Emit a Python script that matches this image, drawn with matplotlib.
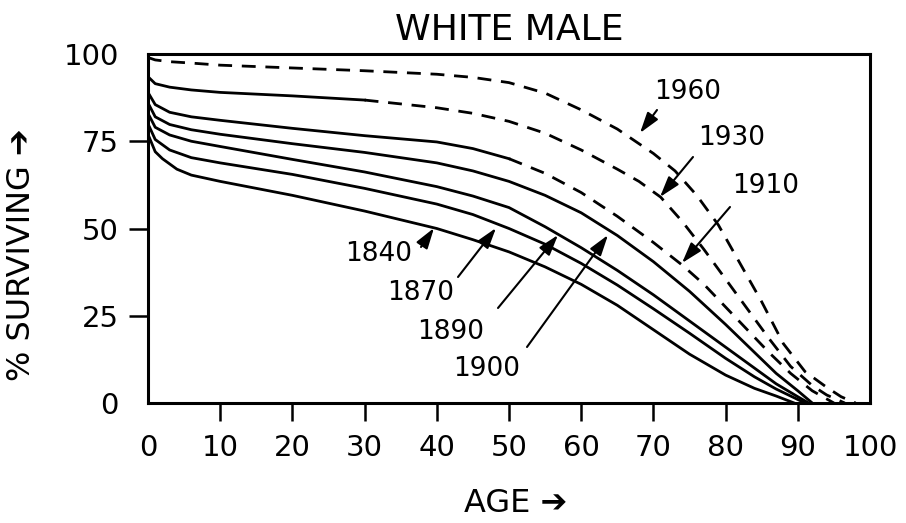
import matplotlib
matplotlib.use("Agg")
import matplotlib.pyplot as plt

# survivorship curves, white male cohorts
ages_1840 = [0, 1, 2, 4, 6, 10, 20, 30, 40, 45, 50, 55, 60, 65, 70, 75, 80, 84, 87, 89.5]
surv_1840 = [77, 72, 70, 67, 65.3, 63.5, 59.5, 55, 50, 46.8, 43.3, 39, 34, 28, 21, 14, 8, 4.2, 2, 0]

ages_1870 = [0, 1, 3, 6, 10, 20, 30, 40, 45, 50, 55, 60, 65, 70, 75, 80, 84, 87, 90, 91]
surv_1870 = [80, 75.5, 72.5, 70.3, 68.8, 65.5, 61.5, 57, 54, 50, 45.5, 40, 33.8, 27, 20, 12.8, 7.5, 4, 1, 0]

ages_1890 = [0, 1, 3, 6, 10, 20, 30, 40, 45, 50, 55, 60, 65, 70, 75, 80, 84, 87, 90, 91.5]
surv_1890 = [83, 79, 76.8, 75, 73.5, 69.8, 66.2, 62, 59.3, 56, 50.5, 44.5, 38, 31, 23.5, 16, 10, 5.5, 1.8, 0]

ages_1900 = [0, 1, 3, 6, 10, 20, 30, 40, 45, 50, 55, 60, 65, 70, 75, 80, 84, 87, 90, 92]
surv_1900 = [86, 82, 79.8, 78.3, 77, 74.3, 71.8, 68.8, 66.5, 63.5, 59.5, 54.5, 48, 40.5, 32, 22.5, 14.5, 8.5, 3.5, 0]

ages_1910 = [0, 1, 3, 6, 10, 20, 30, 40, 45, 50, 55, 60, 65, 70, 74, 77, 80, 83, 86, 89, 92, 95]
surv_1910 = [89, 85.5, 83.3, 82, 81, 78.7, 76.6, 74.8, 72.9, 70, 65.8, 60.3, 53.5, 46, 39.5, 34, 27.5, 21, 14.5, 8.5, 3.5, 0]

ages_1930 = [0, 1, 3, 6, 10, 20, 30, 40, 45, 50, 55, 60, 65, 68, 71, 74, 77, 80, 83, 86, 89, 92, 94, 96.5]
surv_1930 = [93.5, 91.5, 90.5, 89.7, 89, 88, 86.8, 84.6, 83, 80.7, 77.3, 72.5, 67, 63.5, 59, 52, 44, 35.5, 27, 18.5, 10.5, 5, 2.3, 0]

ages_1960 = [0, 1, 3, 6, 10, 20, 30, 40, 45, 50, 55, 60, 65, 70, 73, 76, 79, 82, 85, 88, 91, 94, 96, 98]
surv_1960 = [99, 98.3, 97.8, 97.4, 96.8, 96, 95.2, 94.2, 93.3, 91.8, 88.8, 84, 78.5, 71.5, 66.5, 59.5, 51, 40, 29, 17, 9, 4.5, 1.8, 0]

# age up to which each cohort was actually observed (solid), rest projected (dashed)
observed_until = {"1910": 50, "1930": 30, "1960": 0}

x_ticks = [0, 10, 20, 30, 40, 50, 60, 70, 80, 90, 100]
y_ticks = [0, 25, 50, 75, 100]

fig = plt.figure(figsize=(9.06, 5.23), dpi=100)
ax = fig.add_axes([148 / 906, 1 - 403 / 523, 722 / 906, 349 / 523])

lw = 2.0
dash = (0, (5, 3.5))

for a, s in [(ages_1840, surv_1840), (ages_1870, surv_1870),
             (ages_1890, surv_1890), (ages_1900, surv_1900)]:
    ax.plot(a, s, color="black", lw=lw)

for name, a, s in [("1910", ages_1910, surv_1910), ("1930", ages_1930, surv_1930),
                   ("1960", ages_1960, surv_1960)]:
    cut = observed_until[name]
    i = a.index(cut)
    if cut > 0:
        ax.plot(a[:i + 1], s[:i + 1], color="black", lw=lw)
    ax.plot(a[i:], s[i:], color="black", lw=lw, linestyle=dash)

ax.set_xlim(0, 100)
ax.set_ylim(0, 100)
ax.set_xticks(x_ticks)
ax.set_yticks(y_ticks)
ax.set_xticklabels([str(t) for t in x_ticks])
ax.set_yticklabels([str(t) for t in y_ticks])
for sp in ax.spines.values():
    sp.set_linewidth(2.2)

ax.tick_params(axis="x", direction="out", length=13, width=1.8, pad=9, labelsize=21)
ax.tick_params(axis="y", direction="out", length=14, width=1.8, pad=7, labelsize=21)
# no tick marks at the ends of the axes
for t in [ax.xaxis.get_major_ticks()[0], ax.xaxis.get_major_ticks()[-1],
          ax.yaxis.get_major_ticks()[0], ax.yaxis.get_major_ticks()[-1]]:
    t.tick1line.set_visible(False)

ax.set_title("WHITE MALE", fontsize=26, pad=10)
fig.text(516 / 906, 1 - 503 / 523, "AGE \u2794", ha="center", va="center", fontsize=23)
fig.text(22 / 906, 1 - 255 / 523, "% SURVIVING \u2794", ha="center", va="center",
         rotation=90, fontsize=23)

# cohort labels with arrows (text position, arrow start, arrow tip) in pixel coords
def px(x, y):
    return ((x - 148) / 7.22, (403 - y) / 3.49)

labels = [
    ("1960", (688, 92), (657, 110), (640, 133)),
    ("1930", (732, 138), (693, 157), (660, 197)),
    ("1910", (766, 186), (730, 207), (682, 263)),
    ("1840", (379, 254), (421, 247), (434, 228)),
    ("1870", (421, 293), (458, 277), (496, 228)),
    ("1890", (451, 332), (498, 308), (558, 235)),
    ("1900", (487, 369), (527, 347), (608, 235)),
]
for txt, tpos, start, tip in labels:
    ax.text(*px(*tpos), txt, ha="center", va="center", fontsize=19)
    ax.annotate("", xy=px(*tip), xytext=px(*start),
                arrowprops=dict(arrowstyle="-|>,head_length=0.7,head_width=0.22",
                                color="black", lw=1.5, shrinkA=0, shrinkB=0,
                                mutation_scale=18))

fig.savefig("out.png", dpi=100)
